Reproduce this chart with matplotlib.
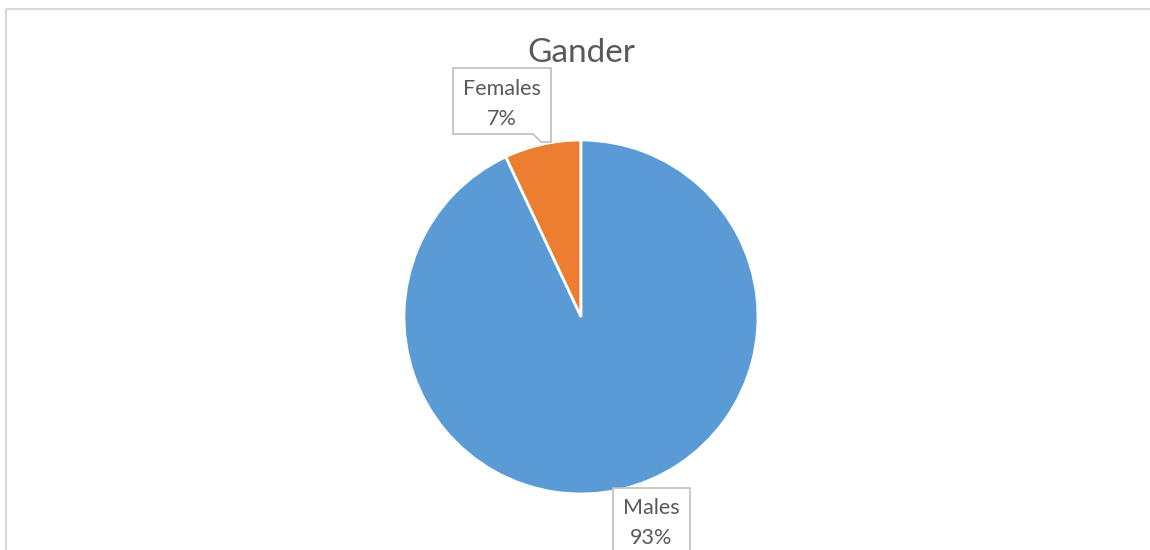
import matplotlib
matplotlib.use("Agg")
import matplotlib.pyplot as plt
from matplotlib.patches import Polygon, Rectangle

# Data
categories = ["Females", "Males"]
shares = [7, 93]
colors = ["#ED7D31", "#5B9BD5"]
title = "Gander"

W, H = 1150, 550
fig = plt.figure(figsize=(W / 100, H / 100), dpi=100)
ax = fig.add_axes([0, 0, 1, 1])
ax.set_xlim(0, W)
ax.set_ylim(0, H)
ax.set_aspect("equal")
ax.axis("off")

font = ["Lato", "DejaVu Sans"]
text_color = "#595959"
frame_color = "#D9D9D9"

# chart-area frame (left and top edges visible)
ax.plot([6, 6], [0, H - 9], color=frame_color, lw=1.5, solid_capstyle="butt")
ax.plot([6, W], [H - 9, H - 9], color=frame_color, lw=1.5, solid_capstyle="butt")

cx, cy, r = 581, H - 317, 177
wedges, _ = ax.pie(shares, colors=colors, startangle=90, counterclock=True,
                   center=(cx, cy), radius=r,
                   wedgeprops=dict(edgecolor="white", linewidth=2))
ax.set_xlim(0, W)
ax.set_ylim(0, H)

ax.text(cx, H - 53, title, ha="center", va="center", fontsize=24,
        color=text_color, family=font)

# callout for the small slice, with a pointer toward the wedge
fx0, fx1, fy0, fy1 = 453, 551, H - 134, H - 68
callout = Polygon([(fx0, fy0), (fx0, fy1), (fx1, fy1), (fx1, fy0 - 8),
                   (541, fy0 - 8), (533, fy0)], closed=True,
                  facecolor="white", edgecolor="#BFBFBF", lw=1.2, zorder=3)
ax.add_patch(callout)
ax.text((fx0 + fx1) / 2, (fy0 + fy1) / 2 - 3, f"{categories[0]}\n{shares[0]}%",
        ha="center", va="center", fontsize=15.5, color=text_color,
        family=font, linespacing=1.65, zorder=4)

# label box for the large slice
mx0, mx1, my0, my1 = 613, 690, H - 560, H - 488
ax.add_patch(Rectangle((mx0, my0), mx1 - mx0, my1 - my0, facecolor="white",
                       edgecolor="#BFBFBF", lw=1.2, zorder=3))
ax.text((mx0 + mx1) / 2, H - 523, f"{categories[1]}\n{shares[1]}%",
        ha="center", va="center", fontsize=15.5, color=text_color,
        family=font, linespacing=1.65, zorder=4)

fig.savefig("out.png", dpi=100, facecolor="white")
